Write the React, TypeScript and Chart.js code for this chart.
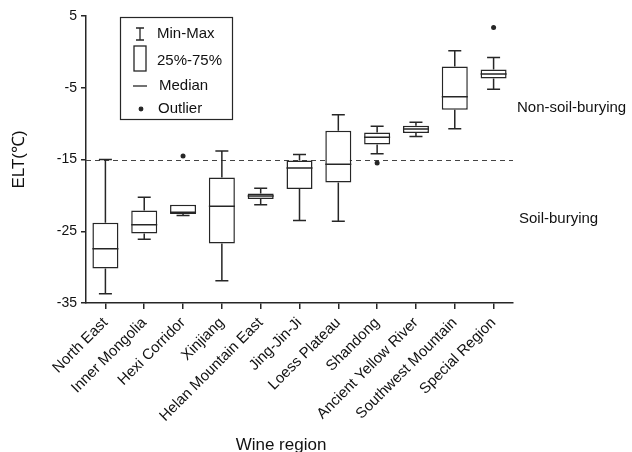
import React, { useEffect, useRef } from "react";
import { Chart, registerables } from "chart.js";
Chart.register(...registerables);

const FONT = 'Arial, "Liberation Sans", Helvetica, sans-serif';
const INK = "#262626";

const categories = [
  "North East",
  "Inner Mongolia",
  "Hexi Corridor",
  "Xinjiang",
  "Helan Mountain East",
  "Jing-Jin-Ji",
  "Loess Plateau",
  "Shandong",
  "Ancient Yellow River",
  "Southwest Mountain",
  "Special Region",
];
const minVals = [-33.7, -26.1, -22.8, -31.9, -21.3, -23.5, -23.6, -14.2, -11.8, -10.7, -5.2];
const q1Vals = [-30.2, -25.3, -22.6, -26.7, -20.5, -19.1, -18.2, -12.9, -11.3, -8.05, -3.7];
const medianVals = [-27.45, -24.1, -22.35, -21.5, -20.1, -16.2, -15.65, -11.9, -10.75, -6.25, -3.1];
const q3Vals = [-23.8, -22.1, -21.3, -17.5, -19.75, -15.15, -11.0, -11.25, -10.3, -2.05, -2.45];
const maxVals = [-15.0, -20.25, -21.3, -13.8, -19.0, -14.3, -8.75, -10.35, -9.8, 0.15, -0.8];
const outlierVals: (number | null)[] = [null, null, -14.5, null, null, null, null, -15.5, null, null, 3.4];

const yTicks = [-35, -25, -15, -5, 5];
const thresholdValue = -15;
const nonSoilLabelValue = -7.8;
const soilLabelValue = -23.3;

export default function App() {
  const ref = useRef<HTMLCanvasElement>(null);

  useEffect(() => {
    const extras = {
      id: "boxExtras",
      beforeDatasetsDraw(chart: any) {
        const { ctx, chartArea: a, scales } = chart;
        const y = scales.y.getPixelForValue(thresholdValue);
        ctx.save();
        ctx.strokeStyle = "#444";
        ctx.lineWidth = 1;
        ctx.setLineDash([5, 4]);
        ctx.beginPath();
        ctx.moveTo(a.left, Math.round(y) + 0.5);
        ctx.lineTo(a.right, Math.round(y) + 0.5);
        ctx.stroke();
        ctx.restore();
      },
      afterDatasetsDraw(chart: any) {
        const { ctx, scales } = chart;
        const meta = chart.getDatasetMeta(0);
        const ys = scales.y;
        ctx.save();
        ctx.strokeStyle = INK;
        ctx.lineWidth = 1.5;
        meta.data.forEach((bar: any, i: number) => {
          const x = bar.x;
          const w = bar.width;
          const cap = w / 2;
          const pMax = ys.getPixelForValue(maxVals[i]);
          const pQ3 = ys.getPixelForValue(q3Vals[i]);
          const pQ1 = ys.getPixelForValue(q1Vals[i]);
          const pMin = ys.getPixelForValue(minVals[i]);
          const pMed = ys.getPixelForValue(medianVals[i]);
          ctx.beginPath();
          if (pQ3 - pMax > 0.5) {
            ctx.moveTo(x, pQ3);
            ctx.lineTo(x, pMax);
            ctx.moveTo(x - cap / 2, pMax);
            ctx.lineTo(x + cap / 2, pMax);
          }
          if (pMin - pQ1 > 0.5) {
            ctx.moveTo(x, pQ1);
            ctx.lineTo(x, pMin);
            ctx.moveTo(x - cap / 2, pMin);
            ctx.lineTo(x + cap / 2, pMin);
          }
          ctx.moveTo(x - w / 2, pMed);
          ctx.lineTo(x + w / 2, pMed);
          ctx.stroke();
        });
        ctx.restore();
      },
      afterDraw(chart: any) {
        const { ctx, chartArea: a, scales } = chart;
        ctx.save();
        // legend
        const L = a.left + 34;
        const T = a.top + 1;
        ctx.strokeStyle = INK;
        ctx.lineWidth = 1.2;
        ctx.strokeRect(L + 0.5, T + 0.5, 112, 102);
        const ix = L + 20;
        const tx = L + 37;
        ctx.lineWidth = 1.3;
        // min-max
        const ry = T + 17;
        ctx.beginPath();
        ctx.moveTo(ix, ry - 6);
        ctx.lineTo(ix, ry + 6);
        ctx.moveTo(ix - 4, ry - 6);
        ctx.lineTo(ix + 4, ry - 6);
        ctx.moveTo(ix - 4, ry + 6);
        ctx.lineTo(ix + 4, ry + 6);
        ctx.stroke();
        // box
        ctx.strokeRect(ix - 6, T + 29, 12, 25);
        // median
        ctx.beginPath();
        ctx.moveTo(ix - 7, T + 69);
        ctx.lineTo(ix + 7, T + 69);
        ctx.stroke();
        // outlier
        ctx.beginPath();
        ctx.arc(ix + 1, T + 92, 1.8, 0, Math.PI * 2);
        ctx.fillStyle = INK;
        ctx.fill();
        ctx.stroke();

        ctx.fillStyle = "#111";
        ctx.font = `15px ${FONT}`;
        ctx.textAlign = "left";
        ctx.textBaseline = "middle";
        ctx.fillText("Min-Max", tx, T + 17);
        ctx.fillText("25%-75%", tx, T + 44);
        ctx.fillText("Median", tx + 2, T + 69);
        ctx.fillText("Outlier", tx + 1, T + 92);

        // annotations
        ctx.fillText("Non-soil-burying", a.right + 4, scales.y.getPixelForValue(nonSoilLabelValue));
        ctx.fillText("Soil-burying", a.right + 6, scales.y.getPixelForValue(soilLabelValue));

        // x title
        ctx.font = `17px ${FONT}`;
        ctx.textAlign = "center";
        ctx.fillText("Wine region", a.left + 195, 445);
        ctx.restore();
      },
    };

    const chart = new Chart(ref.current as HTMLCanvasElement, {
      type: "bar",
      data: {
        labels: categories,
        datasets: [
          {
            type: "bar",
            data: categories.map((_, i) => [q1Vals[i], q3Vals[i]]) as any,
            backgroundColor: "#ffffff",
            borderColor: INK,
            borderWidth: 1.5,
            borderSkipped: false,
            barPercentage: 0.67,
            categoryPercentage: 1,
          } as any,
          {
            type: "line",
            data: outlierVals as any,
            showLine: false,
            pointRadius: 2.5,
            pointBackgroundColor: INK,
            pointBorderColor: INK,
            pointBorderWidth: 0,
          } as any,
        ],
      },
      plugins: [extras],
      options: {
        responsive: false,
        animation: false,
        layout: { padding: { top: 16, right: 119, bottom: 0, left: 0 } },
        plugins: { legend: { display: false }, tooltip: { enabled: false } },
        scales: {
          x: {
            type: "category",
            offset: true,
            grid: {
              offset: false,
              drawOnChartArea: false,
              drawTicks: true,
              tickLength: 6,
              color: INK,
              lineWidth: 1.5,
            },
            border: { display: true, color: INK, width: 1.5 },
            ticks: {
              color: "#111",
              font: { family: FONT, size: 15 },
              minRotation: 45,
              maxRotation: 45,
              autoSkip: false,
              padding: 5,
            },
            afterFit(s: any) {
              s.height = 149;
            },
          },
          y: {
            type: "linear",
            min: -35,
            max: 5,
            afterBuildTicks(s: any) {
              s.ticks = yTicks.map((v) => ({ value: v }));
            },
            grid: {
              drawOnChartArea: false,
              drawTicks: true,
              tickLength: 5,
              color: INK,
              lineWidth: 1.5,
            },
            border: { display: true, color: INK, width: 1.5 },
            ticks: {
              color: "#111",
              font: { family: FONT, size: 14 },
              padding: 4,
            },
            title: {
              display: true,
              text: "ELT(℃)",
              color: "#111",
              font: { family: FONT, size: 17 },
              padding: { top: 9, bottom: 0 },
            },
            afterFit(s: any) {
              s.width = 86;
            },
          },
        },
      } as any,
    });
    return () => chart.destroy();
  }, []);

  return (
    <div style={{ position: "fixed", left: 0, top: 0, width: 632, height: 452, background: "#fff" }}>
      <canvas ref={ref} width={632} height={452} style={{ display: "block" }} />
    </div>
  );
}
